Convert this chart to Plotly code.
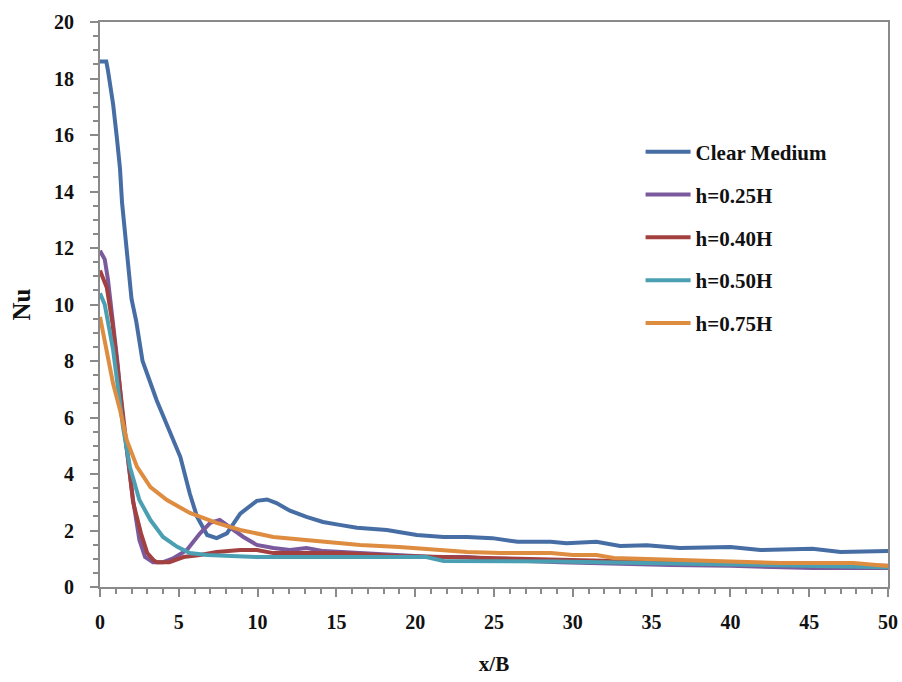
import plotly.graph_objects as go

# Local Nusselt number along the heated wall, x/B from 0 to 50
clear_x = [0, 0.4, 0.5, 0.63, 0.83, 1.07, 1.27, 1.4, 1.7, 2.0, 2.3, 2.7, 3.6, 4.4, 5.1, 5.7,
           6.15, 6.8, 7.4, 8.05, 8.9, 9.95, 10.6, 11.2, 12.05, 13.1, 14.15, 15.2, 16.3, 18.2,
           20.1, 21.8, 23.3, 24.9, 26.5, 28.6, 29.6, 31.5, 33, 34.7, 36.8, 40, 41.9, 45.2, 47, 50]
clear_y = [18.6, 18.6, 18.3, 17.9, 17.1, 15.9, 14.8, 13.6, 11.8, 10.2, 9.4, 8.0, 6.6, 5.56, 4.6, 3.3,
           2.5, 1.84, 1.73, 1.9, 2.6, 3.05, 3.1, 2.97, 2.7, 2.48, 2.3, 2.2, 2.1, 2.02,
           1.84, 1.77, 1.77, 1.73, 1.6, 1.6, 1.55, 1.6, 1.45, 1.48, 1.38, 1.42, 1.31, 1.35, 1.24, 1.27]

h025_x = [0, 0.3, 0.5, 0.83, 1.1, 1.46, 2.1, 2.5, 2.86, 3.36, 4.0, 4.6, 5.5, 6.35, 7.0, 7.6, 8.25,
          9.1, 9.95, 11, 12.05, 13.1, 14.2, 16.9, 19, 21.1, 23.3, 26, 29.2, 31, 34, 36.2, 40, 45.2, 50]
h025_y = [11.9, 11.6, 10.9, 9.45, 8.0, 5.9, 3.08, 1.66, 1.06, 0.88, 0.88, 1.0, 1.3, 1.9, 2.27, 2.37, 2.12,
          1.77, 1.49, 1.38, 1.31, 1.38, 1.27, 1.2, 1.13, 1.06, 1.06, 0.95, 0.88, 0.85, 0.82, 0.78, 0.75, 0.67, 0.67]

h040_x = [0, 0.43, 0.8, 1.1, 1.5, 2.1, 2.6, 3.0, 3.4, 3.6, 4.4, 5.3, 6.35, 7.4, 8.9, 9.95, 11, 13.1,
          15.2, 19, 22, 25, 28, 32, 36, 40, 45, 50]
h040_y = [11.2, 10.6, 9.3, 7.8, 5.8, 3.0, 1.9, 1.2, 0.95, 0.88, 0.88, 1.06, 1.13, 1.24, 1.31, 1.31, 1.2, 1.2,
          1.2, 1.1, 1.06, 1.0, 0.95, 0.9, 0.85, 0.82, 0.78, 0.75]

h050_x = [0, 0.3, 0.83, 1.46, 1.9, 2.5, 3.2, 4.0, 4.9, 5.7, 6.8, 8.9, 9.95, 15.2, 20.7, 21.8, 25, 29,
          31.7, 34.7, 40, 44.2, 50]
h050_y = [10.4, 10.0, 8.4, 5.66, 4.25, 3.08, 2.37, 1.77, 1.42, 1.2, 1.13, 1.1, 1.06, 1.06, 1.06, 0.92, 0.92, 0.9,
          0.88, 0.85, 0.82, 0.78, 0.7]

h075_x = [0, 0.43, 0.83, 1.27, 1.7, 2.35, 3.2, 4.25, 5.7, 7.4, 8.9, 11, 13.1, 14.8, 16.5, 19, 21.1, 23.3,
          25.4, 28.6, 30, 31.5, 32.6, 36.8, 43.1, 47.8, 49.5, 50]
h075_y = [9.56, 8.4, 7.2, 6.27, 5.2, 4.25, 3.54, 3.08, 2.62, 2.27, 2.02, 1.77, 1.66, 1.55, 1.49, 1.42, 1.34, 1.24,
          1.2, 1.2, 1.13, 1.13, 1.03, 0.96, 0.85, 0.85, 0.74, 0.74]

series = [
    ("Clear Medium", clear_x, clear_y, "#466ea5"),
    ("h=0.25H", h025_x, h025_y, "#7a5a9c"),
    ("h=0.40H", h040_x, h040_y, "#a2413f"),
    ("h=0.50H", h050_x, h050_y, "#4aa0b2"),
    ("h=0.75H", h075_x, h075_y, "#dd8c40"),
]

serif = "Liberation Serif, Times New Roman, serif"
axis_gray = "#8a8a8a"

fig = go.Figure()
for i, (name, xs, ys, color) in enumerate(series):
    fig.add_trace(go.Scatter(
        x=xs, y=ys, name=name, mode="lines",
        line=dict(color=color, width=4),
        legendgroup=f"g{i}",
    ))

common_axis = dict(
    showline=True, linecolor=axis_gray, linewidth=2, mirror=True,
    showgrid=False, zeroline=False, automargin=False,
    ticks="outside", ticklen=8, tickwidth=2, tickcolor=axis_gray,
    tickfont=dict(family=serif, size=20, color="#111", weight="bold"),
)

fig.update_xaxes(
    range=[0, 50], dtick=5, tick0=0,
    minor=dict(dtick=1, ticks="outside", ticklen=5, tickwidth=2, tickcolor=axis_gray),
    ticklabelstandoff=8,
    title=dict(text="x/B", font=dict(family=serif, size=21, color="#111", weight="bold"), standoff=24),
    **common_axis,
)
fig.update_yaxes(
    range=[0, 20], dtick=2, tick0=0,
    minor=dict(dtick=0.5, ticks="outside", ticklen=5, tickwidth=2, tickcolor=axis_gray),
    ticklabelstandoff=12,
    title=dict(text="Nu", font=dict(family=serif, size=25, color="#111", weight="bold"), standoff=16),
    **common_axis,
)

fig.update_layout(
    width=902, height=682,
    margin=dict(l=100, r=14, t=22, b=95),
    plot_bgcolor="white", paper_bgcolor="white",
    legend=dict(
        x=0.686, y=0.806, xanchor="left", yanchor="top",
        font=dict(family=serif, size=21, color="#111", weight="bold"),
        tracegroupgap=12.5, itemwidth=45, bgcolor="rgba(0,0,0,0)",
    ),
)

fig.write_html("out.html")
